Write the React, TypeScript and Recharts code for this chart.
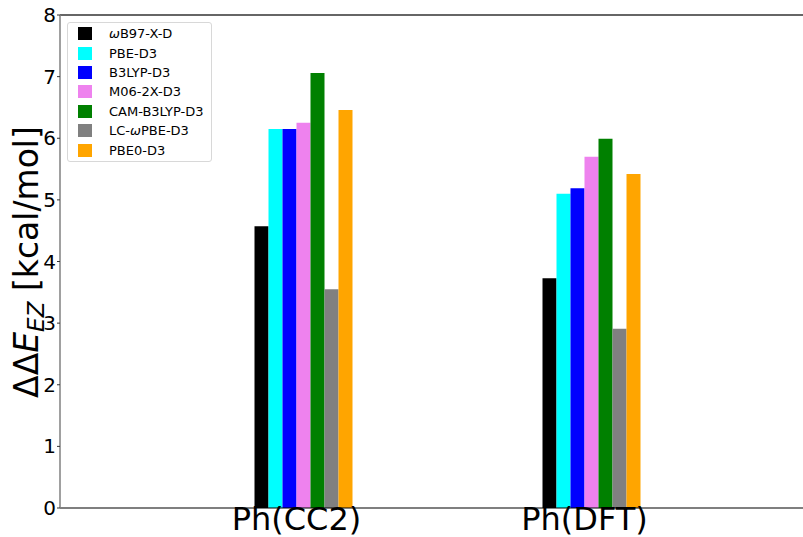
import React from 'react';
import { BarChart, Bar, XAxis, YAxis, ReferenceLine } from 'recharts';

const categories = ['Ph(CC2)', 'Ph(DFT)'];
const wb97xd = [4.57, 3.73];
const pbeD3 = [6.15, 5.1];
const b3lypD3 = [6.15, 5.19];
const m062xD3 = [6.25, 5.7];
const camB3lypD3 = [7.06, 5.99];
const lcwpbeD3 = [3.55, 2.91];
const pbe0D3 = [6.46, 5.42];
const yTicks = [0, 1, 2, 3, 4, 5, 6, 7, 8];

const series = [
  { key: 'wb97xd', label: 'B97-X-D', omega: true, prefix: '', values: wb97xd, color: '#000000' },
  { key: 'pbe', label: 'PBE-D3', omega: false, prefix: '', values: pbeD3, color: '#00ffff' },
  { key: 'b3lyp', label: 'B3LYP-D3', omega: false, prefix: '', values: b3lypD3, color: '#0000ff' },
  { key: 'm062x', label: 'M06-2X-D3', omega: false, prefix: '', values: m062xD3, color: '#ee82ee' },
  { key: 'cam', label: 'CAM-B3LYP-D3', omega: false, prefix: '', values: camB3lypD3, color: '#008000' },
  { key: 'lc', label: 'PBE-D3', omega: true, prefix: 'LC-', values: lcwpbeD3, color: '#808080' },
  { key: 'pbe0', label: 'PBE0-D3', omega: false, prefix: '', values: pbe0D3, color: '#ffa500' },
];

const data = categories.map((name, i) => {
  const row: Record<string, string | number> = { name };
  series.forEach((s) => {
    row[s.key] = s.values[i];
  });
  return row;
});

const font = '"DejaVu Sans", sans-serif';

const XTick = (props: any) => {
  const { x, y, payload } = props;
  return (
    <text x={x - 7} y={y} dy="0.64em" textAnchor="middle" fontSize={32} fontFamily={font} fill="#000">
      {payload.value}
    </text>
  );
};

const YLabel = () => (
  <text
    transform="translate(38, 262) rotate(-90)"
    textAnchor="middle"
    fontSize={33}
    fontFamily={font}
    fill="#000"
  >
    ΔΔ<tspan fontStyle="italic">E</tspan>
    <tspan fontStyle="italic" fontSize={23} dy={6}>EZ</tspan>
    <tspan dy={-6}> [kcal/mol]</tspan>
  </text>
);

const LegendBox = () => (
  <div
    style={{
      position: 'absolute',
      left: 67,
      top: 22,
      width: 145,
      height: 140,
      border: '1px solid #d8d8d8',
      borderRadius: 3,
      background: 'rgba(255,255,255,0.8)',
      fontFamily: font,
      fontSize: 13,
      boxSizing: 'border-box',
      paddingTop: 1,
    }}
  >
    {series.map((s) => (
      <div key={s.key} style={{ display: 'flex', alignItems: 'center', height: 19.4 }}>
        <div style={{ width: 14, height: 13, background: s.color, marginLeft: 10, marginRight: 17 }} />
        <span style={{ whiteSpace: 'nowrap', color: '#000' }}>
          {s.prefix}
          {s.omega ? <i>ω</i> : null}
          {s.label}
        </span>
      </div>
    ))}
  </div>
);

export default function App() {
  return (
    <div style={{ position: 'absolute', left: 0, top: 0, width: 803, height: 537, background: '#fff', overflow: 'hidden' }}>
      <BarChart
        width={803}
        height={537}
        data={data}
        margin={{ top: 15, right: 0, bottom: 0, left: 0 }}
        barCategoryGap={95}
        barGap={0}
      >
        <XAxis
          dataKey="name"
          height={29}
          padding={{ left: 99.5, right: 67.5 }}
          tickLine={false}
          tickSize={0}
          tickMargin={2}
          axisLine={{ stroke: '#000', strokeWidth: 1.2 }}
          tick={<XTick />}
          interval={0}
        />
        <YAxis
          width={60}
          domain={[0, 8]}
          ticks={yTicks}
          interval={0}
          tickSize={3}
          tickMargin={1}
          axisLine={{ stroke: '#808080', strokeWidth: 1.5 }}
          tickLine={{ stroke: '#333' }}
          tick={{ fontSize: 20, fontFamily: font, fill: '#000' }}
          label={<YLabel />}
        />
        <ReferenceLine y={8} stroke="#333" strokeWidth={1.5} />
        {series.map((s) => (
          <Bar key={s.key} dataKey={s.key} fill={s.color} isAnimationActive={false} />
        ))}
      </BarChart>
      <LegendBox />
    </div>
  );
}
